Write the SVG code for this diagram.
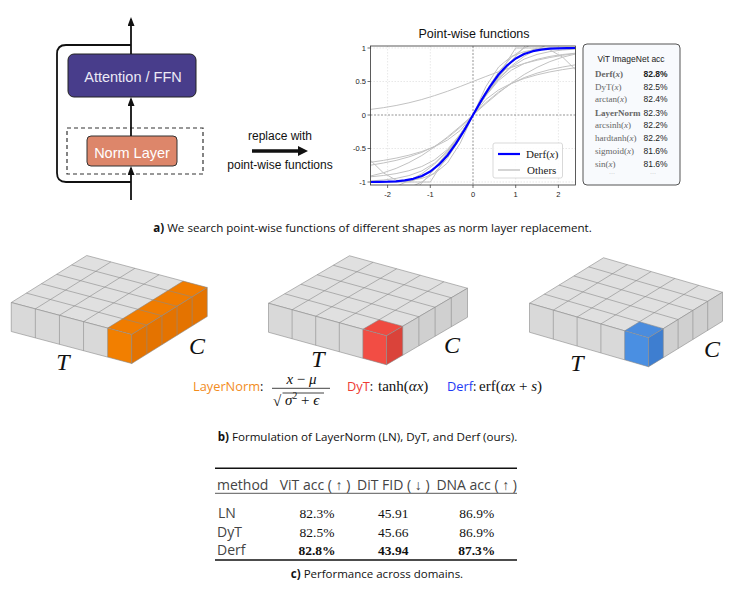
<svg xmlns="http://www.w3.org/2000/svg" width="733" height="615" viewBox="0 0 733 615">
<style>
.sans{font-family:"Liberation Sans",Arial,sans-serif}
.os{font-family:"Open Sans","Noto Sans",sans-serif}
.serif{font-family:"Liberation Serif","Times New Roman",serif}
.it{font-style:italic}
.gl{fill:none;stroke:#c2c2c2;stroke-width:1;stroke-linejoin:round}
.grid{stroke:#d9d9d9;stroke-width:0.6;stroke-dasharray:1.5,1.5}
.zero{stroke:#666;stroke-width:0.7;stroke-dasharray:2,1.5}
.tick{stroke:#333;stroke-width:0.7}
.tl{font-size:7.5px;fill:#222}
.ln{fill:none;stroke:#8a8a8a;stroke-width:0.6;vector-effect:non-scaling-stroke}
.gtop{fill:#E0E0E0}
.gfront{fill:#D9D9D9}
.gside{fill:#D0D0D0}
.wire{fill:none;stroke:#111;stroke-width:1.8}
.lbl{font-family:"Liberation Serif","Times New Roman",serif;font-style:italic;font-size:24px;fill:#111}
.fn{font-family:"Liberation Serif","Times New Roman",serif;font-size:9px;fill:#666}
.val{font-family:"Liberation Sans",Arial,sans-serif;font-size:8.5px;fill:#222}
.th{font-family:"Open Sans","Noto Sans",sans-serif;font-size:14px;fill:#444}
.tv{font-family:"Liberation Serif","Times New Roman",serif;font-size:13.5px;fill:#111}
.math{font-family:"Liberation Serif","Times New Roman",serif;font-size:15px;fill:#111}
.fl{font-family:"Open Sans","Noto Sans",sans-serif;font-size:12.8px;fill:#111}
</style>
<defs>
<marker id="ah" viewBox="0 0 9 7" refX="7" refY="3.5" markerWidth="9" markerHeight="7" markerUnits="userSpaceOnUse" orient="auto">
<path d="M0,0 L9,3.5 L0,7 z" fill="#111"/>
</marker>
<marker id="ah2" viewBox="0 0 10 10" refX="2" refY="5" markerWidth="10" markerHeight="10" markerUnits="userSpaceOnUse" orient="auto">
<path d="M0,0 L10,5 L0,10 z" fill="#111"/>
</marker>
<clipPath id="plotclip"><rect x="370.5" y="46" width="205" height="139"/></clipPath>
</defs>
<rect width="733" height="615" fill="#fff"/>

<!-- Panel a: block diagram -->
<g id="norm-group-box">
<rect x="67" y="128" width="136" height="46" fill="none" stroke="#333" stroke-width="1.2" stroke-dasharray="4,3"/>
</g>
<g id="attention-ffn">
<rect x="68" y="54" width="128" height="43" rx="6" fill="#483D8B" stroke="#222" stroke-width="1"/>
<text x="133" y="81.5" class="sans" font-size="14.5" fill="#ECEAF6" text-anchor="middle">Attention / FFN</text>
</g>
<g id="norm-layer">
<rect x="87" y="136" width="90" height="30" rx="4" fill="#DD866A" stroke="#333" stroke-width="1"/>
<text x="132" y="158" class="sans" font-size="14.5" fill="#fff" text-anchor="middle">Norm Layer</text>
</g>
<g id="connectors">
<path class="wire" d="M131,182 H66 Q57,182 57,173 V54 Q57,45 66,45 H131"/>
<line class="wire" x1="131" y1="200" x2="131" y2="168" marker-end="url(#ah)"/>
<line class="wire" x1="131" y1="136" x2="131" y2="99" marker-end="url(#ah)"/>
<line class="wire" x1="131" y1="54" x2="131" y2="19" marker-end="url(#ah)"/>
<line x1="252" y1="151" x2="300" y2="151" stroke="#111" stroke-width="3.5" marker-end="url(#ah2)"/>
</g>
<g id="replace-label">
<text x="280" y="140" class="sans" font-size="12" fill="#111" text-anchor="middle">replace with</text>
<text x="280" y="168.5" class="sans" font-size="12" fill="#111" text-anchor="middle">point-wise functions</text>
</g>

<!-- Plot -->
<g id="plot">
<text x="474" y="38" class="sans" font-size="12.5" fill="#111" text-anchor="middle">Point-wise functions</text>
<rect x="370.5" y="46" width="205" height="139" fill="#fff"/>
<g>
<line class="grid" x1="387.6" y1="46" x2="387.6" y2="185"/>
<line class="grid" x1="430.3" y1="46" x2="430.3" y2="185"/>
<line class="grid" x1="515.7" y1="46" x2="515.7" y2="185"/>
<line class="grid" x1="558.4" y1="46" x2="558.4" y2="185"/>
<line class="grid" x1="370.5" y1="48" x2="575.5" y2="48"/>
<line class="grid" x1="370.5" y1="81.5" x2="575.5" y2="81.5"/>
<line class="grid" x1="370.5" y1="148.5" x2="575.5" y2="148.5"/>
<line class="grid" x1="370.5" y1="182" x2="575.5" y2="182"/>
<line class="zero" x1="473" y1="46" x2="473" y2="185"/>
<line class="zero" x1="370.5" y1="115" x2="575.5" y2="115"/>
</g>
<g clip-path="url(#plotclip)">
<polyline class="gl" points="370.5,180.9 383.3,180.0 396.1,178.4 408.9,175.6 421.8,170.9 434.6,163.0 447.4,151.0 460.2,134.5 473,115 485.8,95.5 498.6,79.0 511.4,67.0 524.2,59.1 537.1,54.4 549.9,51.6 562.7,50.0 575.5,49.1"/>
<polyline class="gl" points="370.5,193.8 383.3,190.5 396.1,186.3 408.9,180.8 421.8,173.7 434.6,164.1 447.4,151.2 460.2,134.5 473,115 485.8,95.5 498.6,78.8 511.4,65.9 524.2,56.3 537.1,49.2 549.9,43.7 562.7,39.5 575.5,36.2"/>
<polyline class="gl" points="370.5,222.8 383.3,214.7 396.1,205.5 408.9,195.0 421.8,183.1 434.6,169.2 447.4,153.1 460.2,134.8 473,115 485.8,95.2 498.6,76.9 511.4,60.8 524.2,46.9 537.1,35.0 549.9,24.5 562.7,15.3 575.5,7.2"/>
<polyline class="gl" points="370.5,160.3 383.3,172.8 396.1,180.2 408.9,181.8 421.8,177.4 434.6,167.5 447.4,152.8 460.2,134.8 473,115 485.8,95.2 498.6,77.2 511.4,62.5 524.2,52.6 537.1,48.2 549.9,49.8 562.7,57.2 575.5,69.7"/>
<polyline class="gl" points="370.5,176.8 383.3,175.5 396.1,173.6 408.9,170.7 421.8,166.5 434.6,159.8 447.4,149.5 460.2,134.2 473,115 485.8,95.8 498.6,80.5 511.4,70.2 524.2,63.5 537.1,59.3 549.9,56.4 562.7,54.5 575.5,53.2"/>
<polyline class="gl" points="370.5,162.3 383.3,160.4 396.1,158.1 408.9,155.2 421.8,151.5 434.6,146.7 447.4,140.1 460.2,130.5 473,115 485.8,99.5 498.6,89.9 511.4,83.3 524.2,78.5 537.1,74.8 549.9,71.9 562.7,69.6 575.5,67.7"/>
<polyline class="gl" points="370.5,176.0 383.3,172.8 396.1,168.4 408.9,162.6 421.8,155.5 434.6,146.9 447.4,137.0 460.2,126.3 473,115 485.8,103.7 498.6,93.0 511.4,83.1 524.2,74.5 537.1,67.4 549.9,61.6 562.7,57.2 575.5,54.0"/>
<polyline class="gl" points="370.5,165.2 383.3,163.0 396.1,160.4 408.9,156.9 421.8,152.4 434.6,146.3 447.4,138.0 460.2,127.4 473,115 485.8,102.6 498.6,92.0 511.4,83.7 524.2,77.6 537.1,73.1 549.9,69.6 562.7,67.0 575.5,64.8"/>
<polyline class="gl" points="370.5,194.1 383.3,193.0 396.1,191.1 408.9,187.8 421.8,182.0 434.6,172.6 447.4,158.2 460.2,138.4 473,115 485.8,91.6 498.6,71.8 511.4,57.4 524.2,48.0 537.1,42.2 549.9,38.9 562.7,37.0 575.5,35.9"/>
<polyline class="gl" points="370.5,182 430.3,182 515.7,48 575.5,48"/>
<polyline class="gl" points="370.5,109.4 383.3,107.7 396.1,105.5 408.9,102.8 421.8,99.5 434.6,95.6 447.4,91.3 460.2,86.5 473,81.5 485.8,76.5 498.6,71.7 511.4,67.4 524.2,63.5 537.1,60.2 549.9,57.5 562.7,55.3 575.5,53.6"/>
<polyline class="gl" points="370.5,181.9 383.3,181.8 396.1,181.4 408.9,180.5 421.8,178.4 434.6,173.6 447.4,163.0 460.2,143.3 473,115 485.8,86.7 498.6,67.0 511.4,56.4 524.2,51.6 537.1,49.5 549.9,48.6 562.7,48.2 575.5,48.1"/>
<polyline fill="none" stroke="#0000FF" stroke-width="2.2" stroke-linejoin="round" points="370.5,182.0 379.1,181.9 387.6,181.7 396.1,181.3 404.7,180.4 413.2,178.8 421.8,176.0 430.3,171.5 438.8,164.7 447.4,155.5 455.9,143.7 464.5,129.9 473,115 481.5,100.1 490.1,86.3 498.6,74.5 507.2,65.3 515.7,58.5 524.2,54.0 532.8,51.2 541.3,49.6 549.9,48.7 558.4,48.3 566.9,48.1 575.5,48.0"/>
</g>
<rect x="370.5" y="46" width="205" height="139" fill="none" stroke="#333" stroke-width="0.8"/>
<g>
<line class="tick" x1="387.6" y1="185" x2="387.6" y2="188"/>
<line class="tick" x1="430.3" y1="185" x2="430.3" y2="188"/>
<line class="tick" x1="473" y1="185" x2="473" y2="188"/>
<line class="tick" x1="515.7" y1="185" x2="515.7" y2="188"/>
<line class="tick" x1="558.4" y1="185" x2="558.4" y2="188"/>
<line class="tick" x1="367.5" y1="48" x2="370.5" y2="48"/>
<line class="tick" x1="367.5" y1="81.5" x2="370.5" y2="81.5"/>
<line class="tick" x1="367.5" y1="115" x2="370.5" y2="115"/>
<line class="tick" x1="367.5" y1="148.5" x2="370.5" y2="148.5"/>
<line class="tick" x1="367.5" y1="182" x2="370.5" y2="182"/>
</g>
<g class="sans tl" text-anchor="middle">
<text x="387.6" y="197">-2</text>
<text x="430.3" y="197">-1</text>
<text x="473" y="197">0</text>
<text x="515.7" y="197">1</text>
<text x="558.4" y="197">2</text>
</g>
<g class="sans tl" text-anchor="end">
<text x="366" y="50.7">1</text>
<text x="366" y="84.2">0.5</text>
<text x="366" y="117.7">0</text>
<text x="366" y="151.2">-0.5</text>
<text x="366" y="184.7">-1</text>
</g>
<g id="plot-legend">
<rect x="493" y="143" width="69.5" height="35" rx="2" fill="#fff" fill-opacity="0.85" stroke="#cfcfcf" stroke-width="0.8"/>
<line x1="498" y1="154" x2="520" y2="154" stroke="#0000FF" stroke-width="2.2"/>
<line x1="498" y1="170" x2="520" y2="170" stroke="#c2c2c2" stroke-width="1.4"/>
<text x="526" y="157.5" class="serif" font-size="11" fill="#222">Derf(<tspan class="it">x</tspan>)</text>
<text x="527" y="173.5" class="serif" font-size="11" fill="#222">Others</text>
</g>
</g>

<!-- ViT table -->
<g id="vit-table">
<rect x="583" y="44" width="97" height="141" rx="4" fill="#F8FAFD" stroke="#555" stroke-width="1"/>
<text x="631" y="62" class="sans" font-size="8.5" fill="#222" text-anchor="middle">ViT ImageNet acc</text>
<text x="595" y="76.5" class="fn" font-weight="bold" fill="#2233EE">Derf(<tspan class="it">x</tspan>)</text>
<text x="643.5" y="76.5" class="val" font-weight="bold">82.8%</text>
<text x="595" y="89.5" class="fn">DyT(<tspan class="it">x</tspan>)</text>
<text x="643.5" y="89.5" class="val">82.5%</text>
<text x="595" y="102" class="fn">arctan(<tspan class="it">x</tspan>)</text>
<text x="643.5" y="102" class="val">82.4%</text>
<text x="595" y="115.5" class="fn" font-weight="bold" fill="#222">LayerNorm</text>
<text x="643.5" y="115.5" class="val">82.3%</text>
<text x="595" y="128" class="fn">arcsinh(<tspan class="it">x</tspan>)</text>
<text x="643.5" y="128" class="val">82.2%</text>
<text x="595" y="141" class="fn">hardtanh(<tspan class="it">x</tspan>)</text>
<text x="643.5" y="141" class="val">82.2%</text>
<text x="595" y="154" class="fn">sigmoid(<tspan class="it">x</tspan>)</text>
<text x="643.5" y="154" class="val">81.6%</text>
<text x="595" y="166.5" class="fn">sin(<tspan class="it">x</tspan>)</text>
<text x="643.5" y="166.5" class="val">81.6%</text>
<text x="612" y="175" class="sans" font-size="6" fill="#aaa" text-anchor="middle">···</text>
<text x="653" y="175" class="sans" font-size="6" fill="#aaa" text-anchor="middle">···</text>
</g>

<text x="372.5" y="232" class="os" font-size="11.6" fill="#111" text-anchor="middle"><tspan font-weight="bold">a)</tspan> We search point-wise functions of different shapes as norm layer replacement.</text>

<!-- Panel b: cubes -->
<g id="block-layernorm">
<g transform="matrix(24.1 6.4 15.1 -9.4 11.25 302.5)">
<rect width="5" height="5" class="gtop"/>
<rect x="4" width="1" height="5" fill="#F07C00"/>
<path class="ln" d="M1 0V5M2 0V5M3 0V5M4 0V5M0 1H5M0 2H5M0 3H5M0 4H5"/>
<rect width="5" height="5" class="ln"/>
</g>
<g transform="matrix(24.1 6.4 0 29 11.25 302.5)">
<rect width="5" height="1" class="gfront"/>
<rect x="4" width="1" height="1" fill="#F27F00"/>
<path class="ln" d="M1 0V1M2 0V1M3 0V1M4 0V1"/>
<rect width="5" height="1" class="ln"/>
</g>
<g transform="matrix(15.1 -9.4 0 29 131.75 334.5)">
<rect width="5" height="1" fill="#E47300"/>
<path class="ln" d="M1 0V1M2 0V1M3 0V1M4 0V1"/>
<rect width="5" height="1" class="ln"/>
</g>
<text x="63" y="370" class="lbl" text-anchor="middle">T</text>
<text x="197" y="354" class="lbl" text-anchor="middle">C</text>
</g>

<g id="block-dyt">
<g transform="matrix(23.6 6.5 16.2 -9.5 268.5 303.25)">
<rect width="5" height="5" class="gtop"/>
<rect x="4" width="1" height="1" fill="#EF4A40"/>
<path class="ln" d="M1 0V5M2 0V5M3 0V5M4 0V5M0 1H5M0 2H5M0 3H5M0 4H5"/>
<rect width="5" height="5" class="ln"/>
</g>
<g transform="matrix(23.6 6.5 0 29 268.5 303.25)">
<rect width="5" height="1" class="gfront"/>
<rect x="4" width="1" height="1" fill="#F24D44"/>
<path class="ln" d="M1 0V1M2 0V1M3 0V1M4 0V1"/>
<rect width="5" height="1" class="ln"/>
</g>
<g transform="matrix(16.2 -9.5 0 29 386.5 335.75)">
<rect width="5" height="1" class="gside"/>
<rect width="1" height="1" fill="#DA433A"/>
<path class="ln" d="M1 0V1M2 0V1M3 0V1M4 0V1"/>
<rect width="5" height="1" class="ln"/>
</g>
<text x="318" y="367" class="lbl" text-anchor="middle">T</text>
<text x="452" y="353" class="lbl" text-anchor="middle">C</text>
</g>

<g id="block-derf">
<g transform="matrix(23.8 6.9 14.8 -9.1 529.5 303.25)">
<rect width="5" height="5" class="gtop"/>
<rect x="4" width="1" height="1" fill="#4A8CDE"/>
<path class="ln" d="M1 0V5M2 0V5M3 0V5M4 0V5M0 1H5M0 2H5M0 3H5M0 4H5"/>
<rect width="5" height="5" class="ln"/>
</g>
<g transform="matrix(23.8 6.9 0 29 529.5 303.25)">
<rect width="5" height="1" class="gfront"/>
<rect x="4" width="1" height="1" fill="#4A8FE2"/>
<path class="ln" d="M1 0V1M2 0V1M3 0V1M4 0V1"/>
<rect width="5" height="1" class="ln"/>
</g>
<g transform="matrix(14.8 -9.1 0 29 648.5 337.75)">
<rect width="5" height="1" class="gside"/>
<rect width="1" height="1" fill="#3E7ED0"/>
<path class="ln" d="M1 0V1M2 0V1M3 0V1M4 0V1"/>
<rect width="5" height="1" class="ln"/>
</g>
<text x="577" y="371" class="lbl" text-anchor="middle">T</text>
<text x="712" y="357" class="lbl" text-anchor="middle">C</text>
</g>

<!-- Formulas -->
<g id="formulas">
<text x="193" y="391" class="fl"><tspan fill="#F28C1C">LayerNorm</tspan>:</text>
<text x="301.5" y="384" class="math" font-size="14.5" text-anchor="middle"><tspan class="it">x</tspan> − <tspan class="it">μ</tspan></text>
<line x1="272" y1="388.3" x2="330" y2="388.3" stroke="#111" stroke-width="0.8"/>
<text x="273" y="406" class="math" font-size="16">√</text>
<line x1="282.5" y1="393" x2="324" y2="393" stroke="#111" stroke-width="0.8"/>
<text x="285" y="405" class="math"><tspan class="it">σ</tspan><tspan font-size="9.5" dy="-6">2</tspan><tspan dy="6"> + </tspan><tspan class="it">ϵ</tspan></text>
<text x="347" y="391" class="fl"><tspan fill="#EE3B33">DyT</tspan>:</text>
<text x="378" y="391" class="math">tanh(<tspan class="it">αx</tspan>)</text>
<text x="447" y="391" class="fl"><tspan fill="#1F3BF5">Derf</tspan>:</text>
<text x="479" y="391" class="math">erf(<tspan class="it">αx</tspan> + <tspan class="it">s</tspan>)</text>
</g>
<text x="367.5" y="441" class="os" font-size="11.6" fill="#111" text-anchor="middle"><tspan font-weight="bold">b)</tspan> Formulation of LayerNorm (LN), DyT, and Derf (ours).</text>

<!-- Panel c: table -->
<g id="perf-table">
<line x1="215" y1="468.3" x2="517" y2="468.3" stroke="#111" stroke-width="1.4"/>
<line x1="215" y1="493.3" x2="517" y2="493.3" stroke="#111" stroke-width="0.7"/>
<line x1="215" y1="560" x2="517" y2="560" stroke="#111" stroke-width="1.4"/>
<text x="217" y="490" class="th">method</text>
<text x="315" y="490" class="th" text-anchor="middle">ViT acc ( ↑ )</text>
<text x="393.3" y="490" class="th" text-anchor="middle">DiT FID ( ↓ )</text>
<text x="476.7" y="490" class="th" text-anchor="middle">DNA acc ( ↑ )</text>
<text x="218" y="518" class="th">LN</text>
<text x="317" y="518" class="tv" text-anchor="middle">82.3%</text>
<text x="393.3" y="518" class="tv" text-anchor="middle">45.91</text>
<text x="476.7" y="518" class="tv" text-anchor="middle">86.9%</text>
<text x="217" y="537" class="th">DyT</text>
<text x="317" y="537" class="tv" text-anchor="middle">82.5%</text>
<text x="393.3" y="537" class="tv" text-anchor="middle">45.66</text>
<text x="476.7" y="537" class="tv" text-anchor="middle">86.9%</text>
<text x="217" y="555" class="th">Derf</text>
<text x="317" y="555" class="tv" font-weight="bold" text-anchor="middle">82.8%</text>
<text x="393.3" y="555" class="tv" font-weight="bold" text-anchor="middle">43.94</text>
<text x="476.7" y="555" class="tv" font-weight="bold" text-anchor="middle">87.3%</text>
</g>
<text x="377" y="578" class="os" font-size="11.5" fill="#111" text-anchor="middle"><tspan font-weight="bold">c)</tspan> Performance across domains.</text>
</svg>
